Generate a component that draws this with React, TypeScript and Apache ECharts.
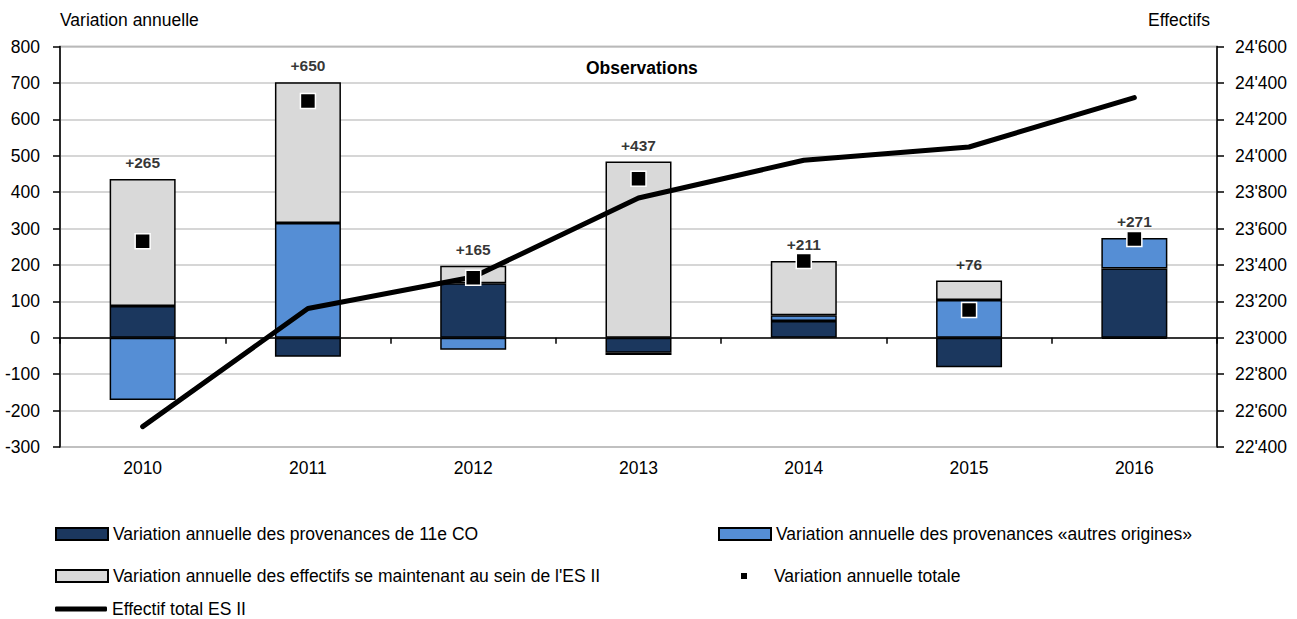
import React, { useEffect, useRef } from "react";
import * as echarts from "echarts";

const categories = ["2010", "2011", "2012", "2013", "2014", "2015", "2016"];
const provenances11eCO = [87, -52, 150, -41, 46, -81, 190];
const autresOrigines = [-171, 315, -33, -6, 16, 104, 84];
const maintienES2 = [349, 387, 48, 484, 149, 53, -3];
const variationTotale = [265, 650, 165, 437, 211, 76, 271];
const effectifTotal = [22512, 23161, 23334, 23768, 23975, 24048, 24319];

const NAME_CO = "Variation annuelle des provenances de 11e CO";
const NAME_AUTRES = "Variation annuelle des provenances «autres origines»";
const NAME_MAINTIEN = "Variation annuelle des effectifs se maintenant au sein de l'ES II";
const NAME_TOTALE = "Variation annuelle totale";
const NAME_EFFECTIF = "Effectif total ES II";

const FONT = "'Liberation Sans', Arial, sans-serif";
const FS = 17.5;

export default function App() {
  const ref = useRef<HTMLDivElement>(null);
  useEffect(() => {
    const chart = echarts.init(ref.current!, null, { renderer: "svg" });
    const positiveTops = categories.map((_, i) =>
      [provenances11eCO[i], autresOrigines[i], maintienES2[i]]
        .filter((v) => v > 0)
        .reduce((a, b) => a + b, 0)
    );
    const legendBase = {
      orient: "horizontal",
      padding: 0,
      itemWidth: 52,
      itemHeight: 12,
      icon: "rect",
      textStyle: { fontSize: FS, color: "#000", fontFamily: FONT, lineHeight: 18 },
      selectedMode: false,
    };
    chart.setOption({
      animation: false,
      backgroundColor: "#fff",
      textStyle: { fontFamily: FONT },
      grid: {
        left: 60,
        right: 80,
        top: 46.5,
        bottom: 172,
        show: true,
        borderColor: "#8a8a8a",
        borderWidth: 1.5,
        backgroundColor: "transparent",
      },
      graphic: [
        {
          type: "text",
          left: 60,
          top: 11,
          style: { text: "Variation annuelle", font: `${FS}px ${FONT}`, fill: "#000" },
        },
        {
          type: "text",
          left: 1148,
          top: 11,
          style: { text: "Effectifs", font: `${FS}px ${FONT}`, fill: "#000" },
        },
        {
          type: "text",
          left: 586,
          top: 59,
          style: { text: "Observations", font: `bold ${FS}px ${FONT}`, fill: "#000" },
        },
      ],
      legend: [
        { ...legendBase, left: 55, top: 525, data: [NAME_CO] },
        { ...legendBase, left: 718, top: 525, data: [NAME_AUTRES] },
        { ...legendBase, left: 55, top: 567, data: [NAME_MAINTIEN] },
        {
          ...legendBase,
          left: 739,
          top: 567,
          itemWidth: 8,
          itemHeight: 8,
          textStyle: { ...legendBase.textStyle, padding: [0, 0, 0, 21] },
          data: [NAME_TOTALE],
        },
        {
          ...legendBase,
          left: 55,
          top: 600,
          itemHeight: 5,
          data: [{ name: NAME_EFFECTIF, icon: "roundRect", itemStyle: { color: "#000" } }],
        },
      ],
      xAxis: [
        {
          type: "category",
          data: categories,
          position: "bottom",
          axisLine: { show: false, onZero: false },
          axisTick: { show: false },
          axisLabel: { fontSize: FS, color: "#000", margin: 12, fontFamily: FONT },
          splitLine: { show: false },
        },
        {
          type: "category",
          data: categories,
          position: "bottom",
          axisLine: { show: true, onZero: true, lineStyle: { color: "#000", width: 1.5 } },
          axisTick: { show: true, length: 6, lineStyle: { color: "#000", width: 1.5 } },
          axisLabel: { show: false },
          splitLine: { show: false },
        },
      ],
      yAxis: [
        {
          type: "value",
          position: "left",
          min: -300,
          max: 800,
          interval: 100,
          axisLine: { show: true, lineStyle: { color: "#000", width: 1.5 } },
          axisTick: { show: true, length: 7, lineStyle: { color: "#000", width: 1.5 } },
          axisLabel: { fontSize: FS, color: "#000", margin: 20, fontFamily: FONT },
          splitLine: { show: true, lineStyle: { color: "#c8c8c8", width: 1.5 } },
        },
        {
          type: "value",
          position: "right",
          min: 22400,
          max: 24600,
          interval: 200,
          axisLine: { show: true, lineStyle: { color: "#000", width: 1.5 } },
          axisTick: { show: true, length: 7, lineStyle: { color: "#000", width: 1.5 } },
          axisLabel: {
            fontSize: FS,
            color: "#000",
            margin: 18,
            fontFamily: FONT,
            formatter: (v: number) => String(v).replace(/\B(?=(\d{3})+(?!\d))/g, "'"),
          },
          splitLine: { show: false },
        },
      ],
      series: [
        {
          type: "bar",
          name: NAME_CO,
          stack: "var",
          data: provenances11eCO,
          barWidth: 66,
          itemStyle: { color: "#1b375e", borderColor: "#000", borderWidth: 1.5 },
          z: 2,
        },
        {
          type: "bar",
          name: NAME_AUTRES,
          stack: "var",
          data: autresOrigines,
          barWidth: 66,
          itemStyle: { color: "#558ed5", borderColor: "#000", borderWidth: 1.5 },
          z: 2,
        },
        {
          type: "bar",
          name: NAME_MAINTIEN,
          stack: "var",
          data: maintienES2,
          barWidth: 66,
          itemStyle: { color: "#d9d9d9", borderColor: "#000", borderWidth: 1.5 },
          z: 2,
        },
        {
          type: "line",
          name: NAME_EFFECTIF,
          yAxisIndex: 1,
          data: effectifTotal,
          symbol: "none",
          itemStyle: { color: "#000" },
          lineStyle: { color: "#000", width: 5, cap: "round", join: "round" },
          z: 5,
        },
        {
          type: "scatter",
          name: NAME_TOTALE,
          data: variationTotale,
          symbol: "rect",
          symbolSize: 15,
          itemStyle: { color: "#000", borderColor: "#fff", borderWidth: 1.5, opacity: 1 },
          z: 6,
        },
        {
          type: "scatter",
          name: "labels",
          data: positiveTops,
          symbolSize: 1,
          itemStyle: { color: "rgba(0,0,0,0)" },
          silent: true,
          label: {
            show: true,
            position: "top",
            distance: 8,
            formatter: (p: any) => "+" + variationTotale[p.dataIndex],
            fontWeight: "bold",
            fontSize: 15.5,
            color: "#000",
            fontFamily: FONT,
          },
          z: 7,
        },
      ],
    });
    return () => chart.dispose();
  }, []);
  return (
    <div
      ref={ref}
      style={{ position: "fixed", left: 0, top: 0, width: 1297, height: 619, background: "#fff" }}
    />
  );
}
